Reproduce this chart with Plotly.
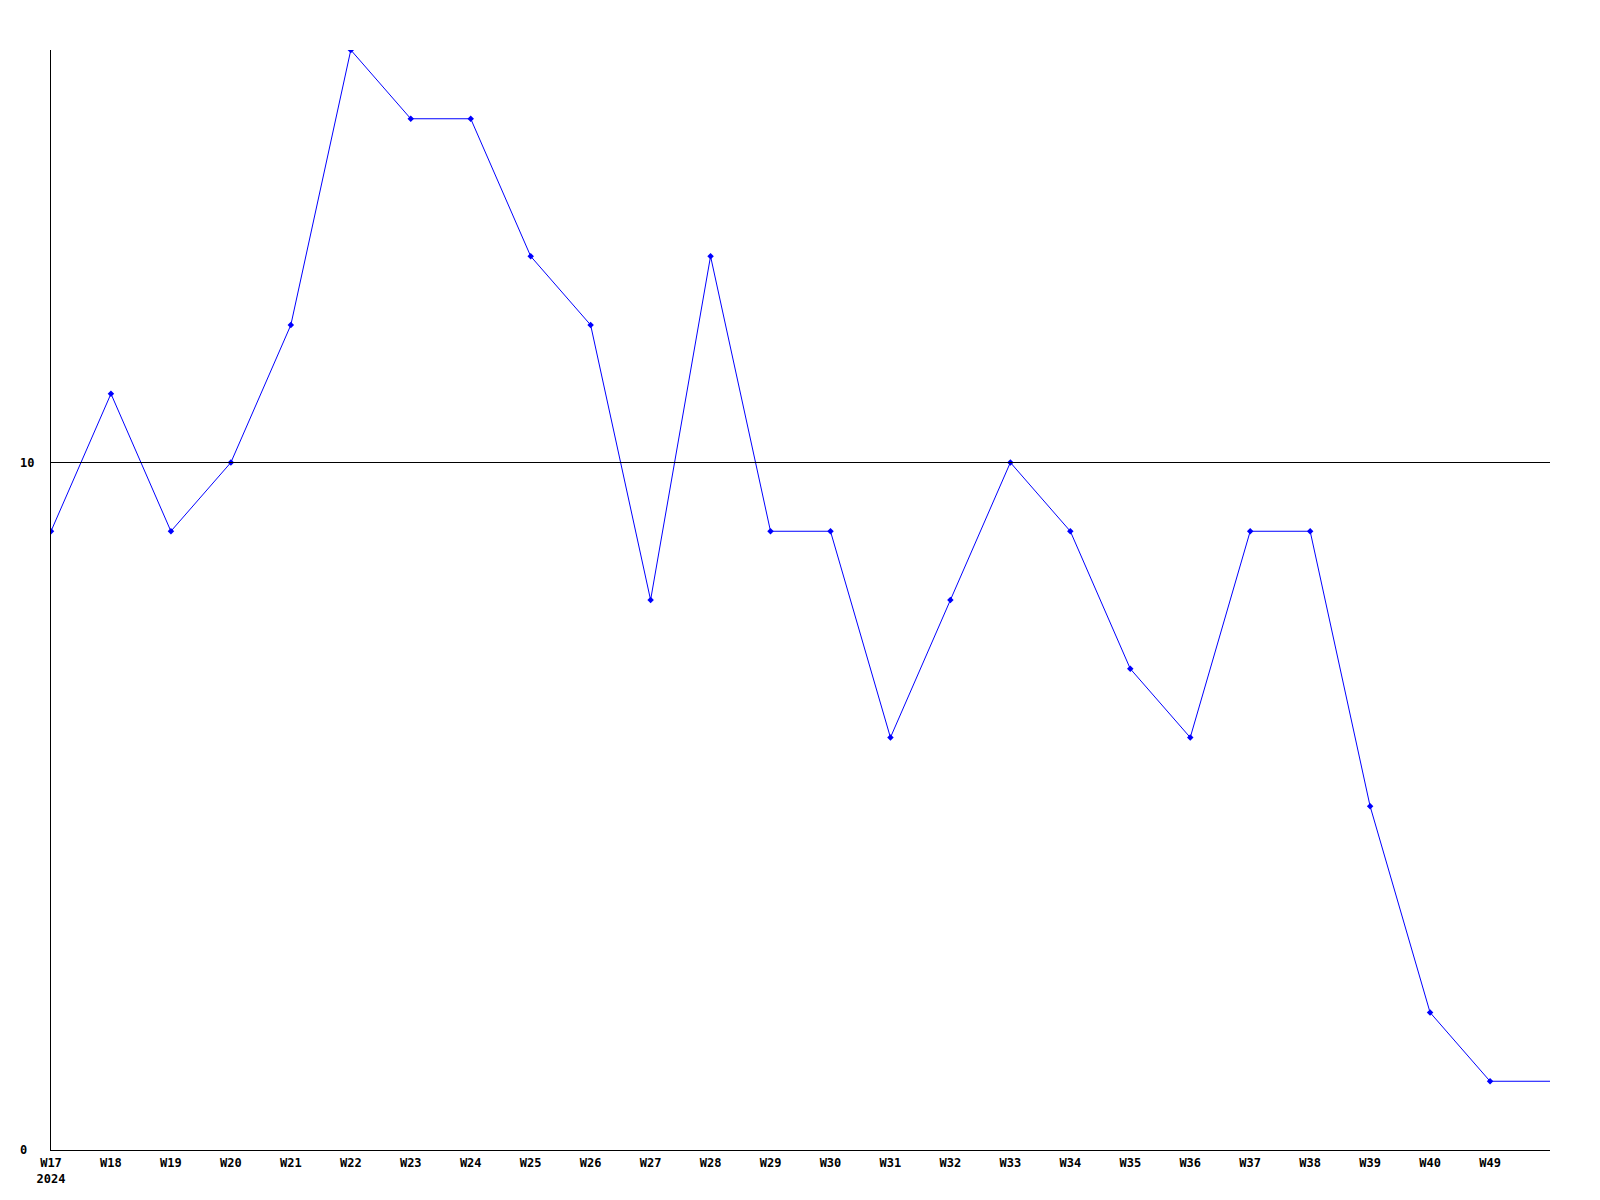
import plotly.graph_objects as go

weeks = ["W17", "W18", "W19", "W20", "W21", "W22", "W23", "W24", "W25", "W26", "W27", "W28", "W29",
         "W30", "W31", "W32", "W33", "W34", "W35", "W36", "W37", "W38", "W39", "W40", "W49"]
values = [9, 11, 9, 10, 12, 16, 15, 15, 13, 12, 8, 13, 9, 9, 6, 8, 10, 9, 7, 6, 9, 9, 5, 2, 1]
current_value = 1  # trailing segment to the right edge
tick_labels = ["W17<br>2024"] + weeks[1:]
y_ticks = [0, 10]

x_idx = list(range(len(weeks)))

fig = go.Figure()
fig.add_trace(go.Scatter(
    x=x_idx + [len(weeks)], y=values + [current_value], mode="lines",
    line=dict(color="#0000ff", width=1), hoverinfo="skip", showlegend=False))
fig.add_trace(go.Scatter(
    x=x_idx, y=values, mode="markers",
    marker=dict(color="#0000ff", size=5, symbol="diamond"), showlegend=False))

fig.add_shape(type="line", xref="paper", x0=0, x1=1, yref="y", y0=10, y1=10,
              line=dict(color="black", width=1))

tfont = dict(family="DejaVu Sans Mono", size=12, weight="bold", color="black")
for v in y_ticks:
    fig.add_annotation(xref="paper", x=0, yref="y", y=v, text=str(v), showarrow=False,
                       xanchor="left", xshift=-33, font=tfont)

fig.update_layout(
    width=1600, height=1200,
    margin=dict(l=43, r=58, t=42, b=58, autoexpand=False),
    plot_bgcolor="white", paper_bgcolor="white",
    font=dict(family="DejaVu Sans Mono", size=12, color="black"),
    xaxis=dict(range=[0, len(weeks)], tickvals=x_idx, ticktext=tick_labels,
               showgrid=False, zeroline=False, showline=True, linecolor="black", linewidth=1,
               ticks="", ticklabelstandoff=2, tickfont=tfont),
    yaxis=dict(range=[0, 16], showticklabels=False,
               showgrid=False, zeroline=False, showline=True, linecolor="black", linewidth=1,
               ticks=""),
)
fig.write_html("out.html")
